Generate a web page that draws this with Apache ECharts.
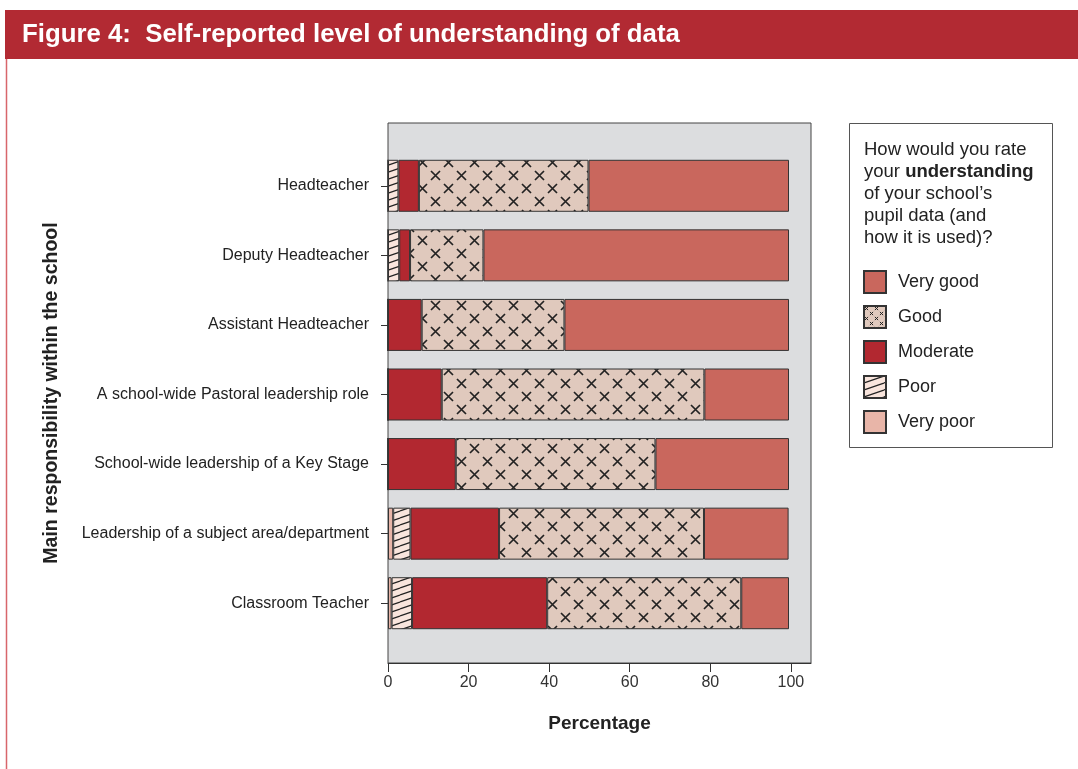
<!DOCTYPE html>
<html>
<head>
<meta charset="utf-8">
<script src="https://cdn.jsdelivr.net/npm/echarts@6/dist/echarts.min.js"></script>
<style>
  html, body { margin: 0; padding: 0; background: #fff; }
  #chart { width: 1078px; height: 769px; }
</style>
</head>
<body>
<div id="chart"></div>
<script>
// categories, top to bottom
const categories = [
    'Headteacher',
    'Deputy Headteacher',
    'Assistant Headteacher',
    'A school-wide Pastoral leadership role',
    'School-wide leadership of a Key Stage',
    'Leadership of a subject area/department',
    'Classroom Teacher'
];
// percentages
const veryPoor = [0, 0, 0, 0, 0, 1.3, 0.9];
const poor = [2.6, 2.8, 0, 0, 0, 4.3, 5.1];
const moderate = [5.1, 2.7, 8.4, 13.4, 16.9, 22.1, 33.7];
const good = [42.3, 18.3, 35.6, 65.5, 49.8, 51.1, 48.4];
const veryGood = [50.0, 76.2, 56.0, 21.1, 33.3, 21.1, 11.9];
const xTicks = [0, 20, 40, 60, 80, 100];
const legendOrder = ['Very good', 'Good', 'Moderate', 'Poor', 'Very poor'];

// cross hatch tile for "Good"
const makeCrossPattern = (size, r, lw) => {
    const c = document.createElement('canvas');
    c.width = size; c.height = size;
    const ctx = c.getContext('2d');
    ctx.fillStyle = '#e0c9bd';
    ctx.fillRect(0, 0, size, size);
    ctx.strokeStyle = '#222';
    ctx.lineWidth = lw;
    const cross = (x, y) => {
        ctx.beginPath();
        ctx.moveTo(x - r, y - r); ctx.lineTo(x + r, y + r);
        ctx.moveTo(x + r, y - r); ctx.lineTo(x - r, y + r);
        ctx.stroke();
    };
    cross(size / 4, size / 4);
    cross(size * 3 / 4, size * 3 / 4);
    return c;
};

// diagonal stripes for "Poor"
const makeStripePattern = () => {
    const w = 20, h = 7;
    const c = document.createElement('canvas');
    c.width = w; c.height = h;
    const ctx = c.getContext('2d');
    ctx.fillStyle = '#f9e5dd';
    ctx.fillRect(0, 0, w, h);
    ctx.strokeStyle = '#222';
    ctx.lineWidth = 1.2;
    [-h, 0, h].forEach(dy => {
        ctx.beginPath();
        ctx.moveTo(0, h + dy);
        ctx.lineTo(w, dy);
        ctx.stroke();
    });
    return c;
};

const goodFill = { image: makeCrossPattern(26, 4.5, 1.7), repeat: 'repeat' };
const goodLegendFill = { image: makeCrossPattern(10, 1.6, 1), repeat: 'repeat' };
const poorFill = { image: makeStripePattern(), repeat: 'repeat' };

const myChart = echarts.init(document.getElementById('chart'), null, { renderer: 'canvas' });

const barSeries = (name, data, color) => ({
    name: name,
    type: 'bar',
    stack: 'total',
    xAxisIndex: 1,
    yAxisIndex: 1,
    barWidth: 52,
    data: data,
    itemStyle: {
        color: color,
        borderColor: '#333',
        borderWidth: 1
    },
    emphasis: { disabled: true }
});

const option = {
    animation: false,
    textStyle: { fontFamily: '"Liberation Sans", Arial, sans-serif' },
    graphic: [
        {
            type: 'rect',
            shape: { x: 5, y: 10, width: 1073, height: 49 },
            style: { fill: '#b22a33' },
            silent: true
        },
        {
            type: 'text',
            x: 22, y: 35,
            style: {
                text: 'Figure 4:  Self-reported level of understanding of data',
                fill: '#fff',
                font: 'bold 25.8px "Liberation Sans", Arial, sans-serif',
                verticalAlign: 'middle'
            },
            silent: true
        },
        {
            type: 'line',
            shape: { x1: 6.5, y1: 59, x2: 6.5, y2: 769 },
            style: { stroke: '#d8666b', lineWidth: 1.5 },
            silent: true
        },
        {
            type: 'rect',
            shape: { x: 849.5, y: 123.5, width: 203, height: 324 },
            style: { fill: '#fff', stroke: '#555', lineWidth: 1 },
            z: -1,
            silent: true
        },
        {
            type: 'text',
            x: 864, y: 139,
            style: {
                text: 'How would you rate\nyour {b|understanding}\nof your school\u2019s\npupil data (and\nhow it is used)?',
                fill: '#222',
                font: '18.5px "Liberation Sans", Arial, sans-serif',
                lineHeight: 22,
                rich: {
                    b: { fontWeight: 'bold', fontSize: 18.5, lineHeight: 22, fill: '#222' }
                }
            },
            silent: true
        }
    ],
    legend: {
        orient: 'vertical',
        left: 858,
        top: 265,
        itemWidth: 22,
        itemHeight: 22,
        itemGap: 11,
        icon: 'rect',
        selectedMode: false,
        data: legendOrder.map(n => n === 'Good' ? { name: n, itemStyle: { color: goodLegendFill } } : n),
        textStyle: { fontSize: 18, color: '#222', padding: [0, 0, 0, 7] }
    },
    grid: [
        {
            // grey plot box
            left: 388, top: 123, width: 423, height: 540,
            show: true,
            backgroundColor: '#dcdddf',
            borderColor: '#444',
            borderWidth: 1,
            z: 0
        },
        {
            // bars
            left: 388, top: 151, width: 401, height: 487
        }
    ],
    xAxis: [
        {
            gridIndex: 0,
            type: 'value',
            min: 0,
            max: 105,
            axisLine: { show: true, lineStyle: { color: '#333', width: 1 } },
            axisTick: { show: true, length: 9, customValues: xTicks, lineStyle: { color: '#333' } },
            axisLabel: { customValues: xTicks, fontSize: 16, color: '#333', margin: 12 },
            splitLine: { show: false },
            name: 'Percentage',
            nameLocation: 'middle',
            nameGap: 51,
            nameTextStyle: { fontSize: 19, fontWeight: 'bold', color: '#222' }
        },
        {
            gridIndex: 1,
            type: 'value',
            min: 0,
            max: 100,
            show: false
        }
    ],
    yAxis: [
        {
            gridIndex: 0,
            type: 'value',
            axisLine: { show: false },
            axisTick: { show: false },
            axisLabel: { show: false },
            splitLine: { show: false },
            name: 'Main responsibility within the school',
            nameLocation: 'middle',
            nameRotate: 90,
            nameGap: 326,
            nameTextStyle: { fontSize: 19.5, fontWeight: 'bold', color: '#222' }
        },
        {
            gridIndex: 1,
            type: 'category',
            inverse: true,
            data: categories,
            axisLine: { show: false },
            axisTick: { show: true, alignWithLabel: true, length: 7, lineStyle: { color: '#333' } },
            axisLabel: { fontSize: 16, color: '#222', margin: 19 },
            splitLine: { show: false }
        }
    ],
    series: [
        barSeries('Very poor', veryPoor, '#e8b5a8'),
        barSeries('Poor', poor, poorFill),
        barSeries('Moderate', moderate, '#b22830'),
        barSeries('Good', good, goodFill),
        barSeries('Very good', veryGood, '#c9675d')
    ]
};

myChart.setOption(option);
</script>
</body>
</html>
